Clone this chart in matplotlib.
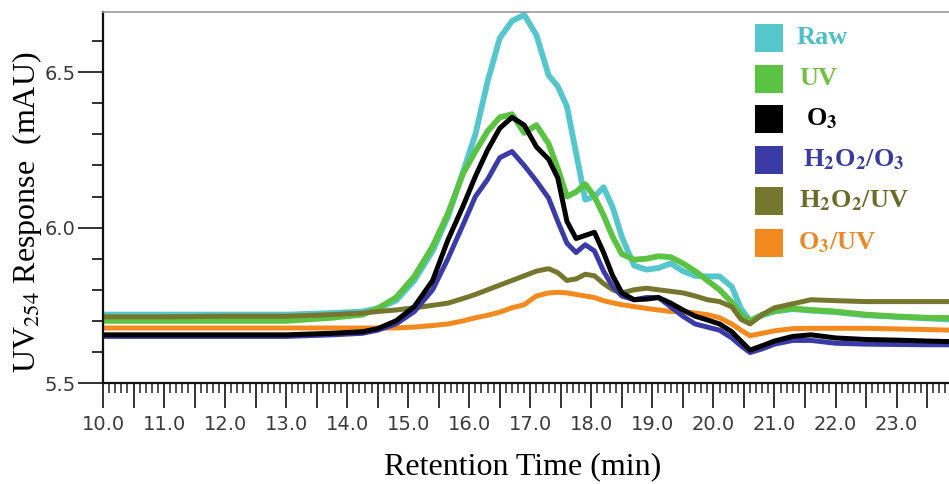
import matplotlib
matplotlib.use("Agg")
import matplotlib.pyplot as plt
from matplotlib.ticker import MultipleLocator, FuncFormatter
from matplotlib.patches import Rectangle

plt.rcParams['mathtext.fontset'] = 'stix'

# ---------------- data ----------------
time = [10.0, 11.0, 12.0, 13.0, 13.75, 14.25, 14.5, 14.8, 15.1, 15.4, 15.65, 15.9,
        16.1, 16.3, 16.5, 16.7, 16.9, 17.1, 17.3, 17.45, 17.6, 17.75, 17.9, 18.05,
        18.2, 18.35, 18.5, 18.7, 18.9, 19.1, 19.3, 19.5, 19.7, 19.9, 20.1, 20.3,
        20.45, 20.6, 20.8, 21.0, 21.3, 21.6, 22.0, 22.5, 23.0, 23.5, 23.9]

raw = [5.72, 5.72, 5.72, 5.72, 5.725, 5.73, 5.74, 5.765, 5.83, 5.925, 6.035, 6.18,
       6.30, 6.47, 6.61, 6.665, 6.685, 6.62, 6.49, 6.455, 6.39, 6.24, 6.09, 6.10,
       6.13, 6.065, 5.97, 5.878, 5.865, 5.87, 5.885, 5.86, 5.845, 5.843, 5.843, 5.81,
       5.74, 5.70, 5.718, 5.73, 5.738, 5.733, 5.728, 5.718, 5.713, 5.708, 5.704]

uv = [5.70, 5.70, 5.70, 5.70, 5.71, 5.72, 5.74, 5.775, 5.843, 5.94, 6.045, 6.175,
      6.245, 6.31, 6.355, 6.365, 6.305, 6.33, 6.27, 6.19, 6.10, 6.115, 6.14, 6.10,
      6.04, 5.97, 5.915, 5.897, 5.90, 5.908, 5.905, 5.885, 5.86, 5.83, 5.80, 5.76,
      5.72, 5.70, 5.72, 5.732, 5.74, 5.735, 5.73, 5.72, 5.714, 5.71, 5.709]

o3 = [5.655, 5.655, 5.655, 5.655, 5.66, 5.665, 5.675, 5.70, 5.746, 5.83, 5.96, 6.07,
      6.165, 6.25, 6.32, 6.355, 6.33, 6.26, 6.22, 6.16, 6.02, 5.965, 5.975, 5.985,
      5.92, 5.845, 5.79, 5.768, 5.77, 5.775, 5.757, 5.735, 5.715, 5.703, 5.69, 5.665,
      5.635, 5.606, 5.62, 5.635, 5.65, 5.655, 5.645, 5.64, 5.638, 5.635, 5.633]

h2o2_o3 = [5.65, 5.65, 5.65, 5.65, 5.655, 5.66, 5.67, 5.69, 5.73, 5.80, 5.90, 6.01,
           6.10, 6.155, 6.225, 6.245, 6.20, 6.15, 6.095, 6.02, 5.95, 5.92, 5.945, 5.925,
           5.86, 5.81, 5.78, 5.768, 5.775, 5.775, 5.745, 5.715, 5.69, 5.68, 5.67, 5.645,
           5.62, 5.598, 5.61, 5.625, 5.637, 5.637, 5.628, 5.625, 5.624, 5.623, 5.623]

h2o2_uv = [5.713, 5.713, 5.715, 5.715, 5.72, 5.725, 5.73, 5.735, 5.742, 5.75, 5.757, 5.772,
           5.785, 5.80, 5.815, 5.83, 5.845, 5.86, 5.868, 5.855, 5.83, 5.835, 5.85, 5.845,
           5.82, 5.80, 5.79, 5.80, 5.805, 5.80, 5.795, 5.79, 5.78, 5.768, 5.762, 5.745,
           5.705, 5.69, 5.72, 5.742, 5.755, 5.768, 5.765, 5.762, 5.762, 5.762, 5.762]

o3_uv = [5.677, 5.677, 5.677, 5.677, 5.677, 5.677, 5.677, 5.677, 5.68, 5.685, 5.69, 5.70,
         5.71, 5.718, 5.728, 5.742, 5.752, 5.78, 5.79, 5.792, 5.79, 5.785, 5.78, 5.775,
         5.765, 5.758, 5.752, 5.746, 5.74, 5.735, 5.73, 5.73, 5.725, 5.72, 5.71, 5.69,
         5.67, 5.652, 5.66, 5.668, 5.675, 5.676, 5.676, 5.676, 5.674, 5.672, 5.67]

labels = ["Raw", "UV", "O$_\\mathbf{3}$", "H$_\\mathbf{2}$O$_\\mathbf{2}$/O$_\\mathbf{3}$",
          "H$_\\mathbf{2}$O$_\\mathbf{2}$/UV", "O$_\\mathbf{3}$/UV"]
series = [raw, uv, o3, h2o2_o3, h2o2_uv, o3_uv]
line_colors = ["#55c6cc", "#5cc244", "#000000", "#3b3ba6", "#76772e", "#f38a1f"]
text_colors = ["#4fbec6", "#72c040", "#000000", "#3a3a9c", "#6a6b2a", "#e98a2a"]
draw_order = [0, 1, 4, 5, 3, 2]
widths = [4.2, 4.2, 3.6, 3.6, 3.6, 3.6]

# ---------------- figure ----------------
W, H = 949, 484
fig = plt.figure(figsize=(W / 100, H / 100), dpi=100)
ax = fig.add_axes([103 / W, 1 - 383 / H, 1 - 103 / W + 0.002, (383 - 12) / H])

for i in draw_order:
    ax.plot(time, series[i], color=line_colors[i], lw=widths[i],
            solid_joinstyle='round', solid_capstyle='round')

ax.set_xlim(10.0, 23.89)
ax.set_ylim(5.5, 6.694)

ax.xaxis.set_major_locator(MultipleLocator(0.5))
ax.xaxis.set_minor_locator(MultipleLocator(0.1))
ax.xaxis.set_major_formatter(FuncFormatter(
    lambda v, p: f"{v:.1f}" if abs(v - round(v)) < 1e-6 else ""))
ax.yaxis.set_major_locator(MultipleLocator(0.5))
ax.yaxis.set_minor_locator(MultipleLocator(0.1))
ax.yaxis.set_major_formatter(FuncFormatter(lambda v, p: f"{v:.1f}"))

ax.tick_params(axis='x', which='major', direction='out', length=18, width=1.3,
               pad=5, labelsize=14, labelcolor='#3a3a3a', color='#222222')
ax.tick_params(axis='x', which='minor', direction='out', length=7, width=1.1,
               color='#222222')
ax.tick_params(axis='y', which='major', direction='out', length=18, width=1.3,
               pad=1.5, labelsize=14, labelcolor='#3a3a3a', color='#222222')
ax.tick_params(axis='y', which='minor', direction='out', length=8, width=1.3,
               color='#222222')

for s in ['left', 'bottom']:
    ax.spines[s].set_linewidth(1.6)
    ax.spines[s].set_color('#111111')
ax.spines['top'].set_color('#999999')
ax.spines['top'].set_linewidth(1.2)
ax.spines['right'].set_visible(False)

fig.text(27 / W, 1 - 212 / H, "UV$_{254}$ Response  (mAU)", rotation=90,
         ha='center', va='center', family='Liberation Serif', fontsize=23)
fig.text(523 / W, 1 - 467 / H, "Retention Time (min)", ha='center', va='center',
         family='Liberation Serif', fontsize=23)

# legend (drawn in pixel overlay)
ov = fig.add_axes([0, 0, 1, 1], facecolor='none')
ov.set_xlim(0, W)
ov.set_ylim(H, 0)
ov.axis('off')
row_y = [37.5, 78.5, 118.5, 159.5, 201, 243]
text_x = [797, 799, 806, 803, 799, 798]
for i in range(6):
    ov.add_patch(Rectangle((755, row_y[i] - 14), 28, 28, facecolor=line_colors[i],
                           edgecolor='none'))
    ov.text(text_x[i], row_y[i], labels[i], color=text_colors[i], ha='left',
            va='center', family='Liberation Serif', fontweight='bold', fontsize=19)

fig.savefig("out.png", dpi=100)
